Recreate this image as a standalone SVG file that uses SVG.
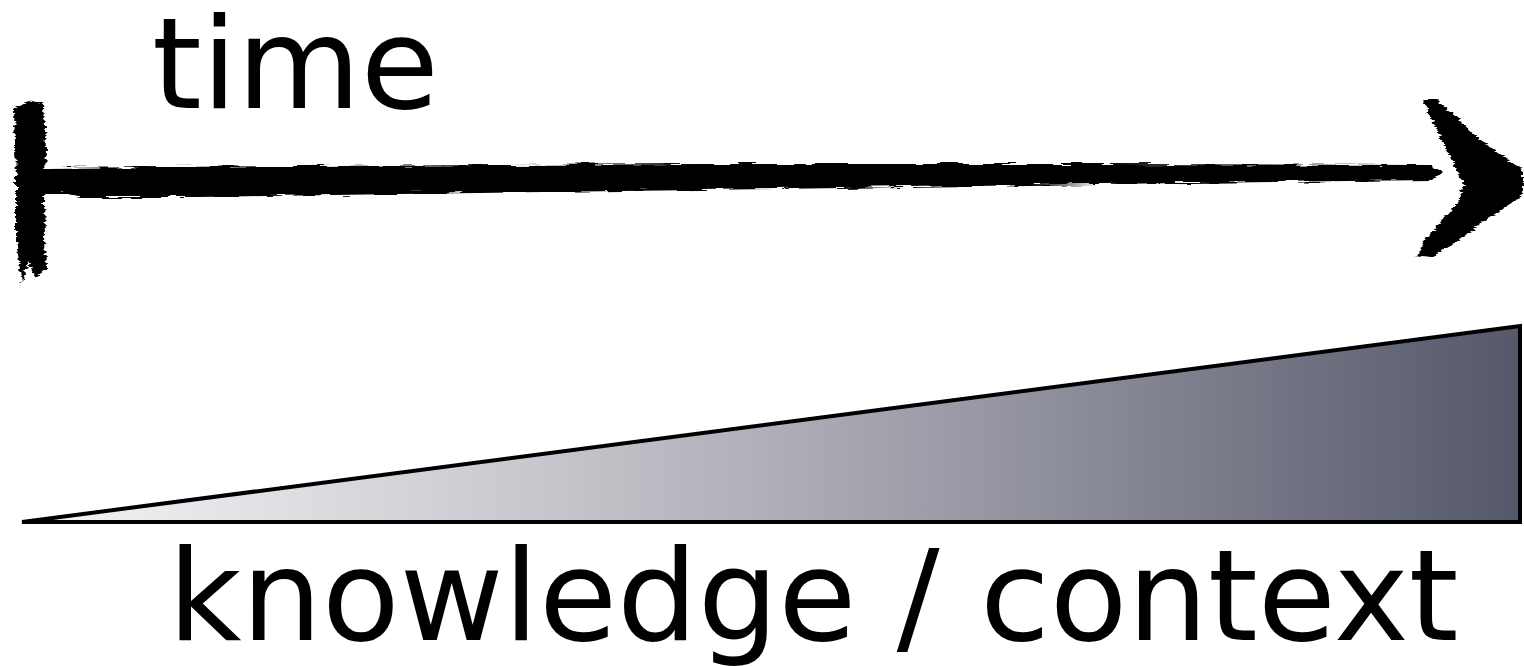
<svg xmlns="http://www.w3.org/2000/svg" width="1524" height="666" viewBox="0 0 1524 666">
<style>
.lbl{font-family:"DejaVu Sans",sans-serif;font-size:127px;fill:#000}
.ink{fill:#000;stroke:none}
</style>
<defs>
<linearGradient id="g" x1="22" y1="0" x2="1520" y2="0" gradientUnits="userSpaceOnUse">
<stop offset="0" stop-color="#f6f6fa"/>
<stop offset="0.35" stop-color="#c6c7cc"/>
<stop offset="0.65" stop-color="#9596a2"/>
<stop offset="1" stop-color="#555869"/>
</linearGradient>
<filter id="rough" x="-5%" y="-20%" width="110%" height="140%">
<feTurbulence type="fractalNoise" baseFrequency="0.03 0.4" numOctaves="2" seed="3" result="n"/>
<feDisplacementMap in="SourceGraphic" in2="n" scale="8" xChannelSelector="R" yChannelSelector="G"/>
</filter>
</defs>
<g id="time-label"><text class="lbl" x="152" y="108">time</text></g>
<g id="connectors" filter="url(#rough)">
<path class="ink" d="M14,110 L28,100 L44,104 L46,150 L44,200 L46,270 L36,278 L28,262 L22,284 L16,240 L16,180 Z"/>
<path class="ink" d="M44,168 L300,166 L700,164 L1100,164 L1430,165 L1442,172 L1432,180 L1100,184 L700,190 L400,194 L200,197 L80,197 L60,192 L44,192 Z"/>
<path class="ink" d="M1422,100 L1436,98 L1480,140 L1523,170 L1523,195 L1480,225 L1432,258 L1416,256 L1425,240 L1458,202 L1464,185 L1452,160 Z"/>
</g>
<g id="knowledge-wedge">
<polygon points="22,522 1520,326 1520,522" fill="url(#g)" stroke="#000" stroke-width="4" stroke-linejoin="miter"/>
</g>
<g id="knowledge-label"><text class="lbl" x="168" y="640">knowledge / context</text></g>
</svg>
